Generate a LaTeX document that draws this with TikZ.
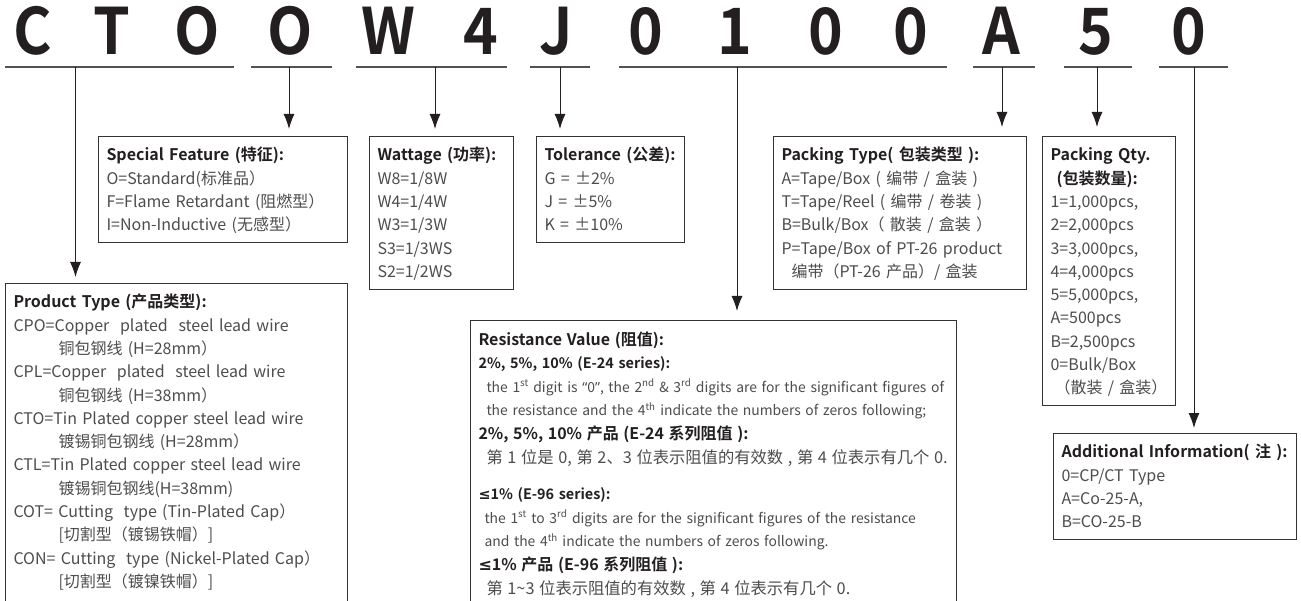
\documentclass[tikz,border=0pt]{standalone}
\usepackage{fontspec}
\setmainfont{Noto Sans CJK SC}[BoldFont={Noto Sans CJK SC Bold}]
\newfontfamily\bigfont{Noto Sans CJK SC Bold}
\newfontfamily\latinf{Noto Sans}
\newfontfamily\symf{DejaVu Sans}
\usetikzlibrary{arrows.meta}
\definecolor{bodytxt}{HTML}{4D4D4D}
\definecolor{titletxt}{HTML}{231F20}
\definecolor{linecol}{HTML}{333333}
\newcommand{\hdr}[1]{{\color{titletxt}\bfseries #1}}
\newcommand{\ind}[1]{\hspace*{#1pt}}
\newcommand{\lquo}{{\latinf “}}
\newcommand{\rquo}{{\latinf ”}}
\newcommand{\leqsym}{{\symf\bfseries ≤}}
\newcommand{\bstrut}{\rule[-4pt]{0pt}{4pt}}
\newcommand{\sub}[1]{{\color{titletxt}\bfseries\fontsize{14.4}{23.6}\selectfont #1}}
\newcommand{\subcn}[1]{{\color{titletxt}\bfseries\fontsize{16}{23.6}\selectfont #1}}
\newcommand{\cnline}[1]{{\fontsize{16.3}{23.6}\selectfont #1}}
\begin{document}
\begin{tikzpicture}[x=1pt,y=-1pt,
  biglet/.style={anchor=base, font=\bigfont\fontsize{64}{64}\selectfont, text=titletxt, inner sep=0pt, xscale=0.92},
  uline/.style={draw=linecol!85, line width=1.6pt},
  conn/.style={draw=titletxt, line width=1pt, -{Latex[length=15pt,width=11pt]}},
  infobox/.style={draw=linecol, line width=1pt, anchor=north west, align=left,
    inner xsep=8pt, inner ysep=8pt, text=bodytxt, font=\fontsize{16}{23.3}\selectfont}
]
\fill[white] (0,0) rectangle (1301,601);
\useasboundingbox (0,0) rectangle (1301,601);
\clip (0,0) rectangle (1301,601);

% big code letters
\node[biglet] (L1) at (33,55) {C};
\node[biglet] (L2) at (112,55) {T};
\node[biglet] (L3) at (197,55) {O};
\node[biglet] (L4) at (290,55) {O};
\node[biglet] (L5) at (388,55) {W};
\node[biglet] (L6) at (481,55) {4};
\node[biglet] (L7) at (556,55) {J};
\node[biglet] (L8) at (646,55) {0};
\node[biglet] (L9) at (735,55) {1};
\node[biglet] (L10) at (826,55) {0};
\node[biglet] (L11) at (911,55) {0};
\node[biglet] (L12) at (1001,55) {A};
\node[biglet] (L13) at (1096,55) {5};
\node[biglet] (L14) at (1189,55) {0};

% underline coordinates
\coordinate (u1a) at (5,67);    \coordinate (u1b) at (234,67);  \coordinate (s1) at (75.5,67);
\coordinate (u2a) at (251,67);  \coordinate (u2b) at (332,67);  \coordinate (s2) at (289,67);
\coordinate (u3a) at (356,67);  \coordinate (u3b) at (507,67);  \coordinate (s3) at (435,67);
\coordinate (u4a) at (530,67);  \coordinate (u4b) at (590,67);  \coordinate (s4) at (560,67);
\coordinate (u5a) at (619,67);  \coordinate (u5b) at (947,67);  \coordinate (s5) at (737,67);
\coordinate (u6a) at (973,67);  \coordinate (u6b) at (1035,67); \coordinate (s6) at (1002,67);
\coordinate (u7a) at (1064,67); \coordinate (u7b) at (1132,67); \coordinate (s7) at (1097,67);
\coordinate (u8a) at (1159,67); \coordinate (u8b) at (1228,67); \coordinate (s8) at (1194,67);
\foreach \i in {1,...,8} {\draw[uline] (u\i a) -- (u\i b);}

% boxes
\node[infobox, text width=326pt] (pt) at (5,283) {\strut\hdr{Product Type (产品类型):}\\
CPO=Copper\ \ plated\ \ steel lead wire\\
\ind{45}铜包钢线 (H=28mm）\\
CPL=Copper\ \ plated\ \ steel lead wire\\
\ind{45}铜包钢线 (H=38mm）\\
CTO=Tin Plated copper steel lead wire\\
\ind{45}镀锡铜包钢线 (H=28mm）\\
CTL=Tin Plated copper steel lead wire\\
\ind{45}镀锡铜包钢线(H=38mm)\\
COT= Cutting\ \ type (Tin-Plated Cap）\\
\ind{45}[切割型（镀锡铁帽）]\\
CON= Cutting\ \ type (Nickel-Plated Cap）\\
\ind{45}[切割型（镀镍铁帽）]\\
\ind{45}\strut};

\node[infobox, text width=233pt] (sf) at (98,136) {\strut\hdr{Special Feature (特征):}\\
O=Standard(标准品）\\
F=Flame Retardant (阻燃型）\\
I=Non-Inductive (无感型）\bstrut};

\node[infobox, text width=128pt] (wt) at (369,136) {\strut\hdr{Wattage (功率):}\\
W8=1/8W\\ W4=1/4W\\ W3=1/3W\\ S3=1/3WS\\ S2=1/2WS\bstrut};

\node[infobox, text width=132pt] (tol) at (536,136) {\strut\hdr{Tolerance (公差):}\\
G = ±2\%\\ J = ±5\%\\ K = ±10\%\bstrut};

\node[infobox, text width=237pt] (pk) at (773,136) {\strut\hdr{Packing Type( 包装类型 ):}\\
A=Tape/Box ( 编带 / 盒装 )\\
T=Tape/Reel ( 编带 / 卷装 )\\
B=Bulk/Box（ 散装 / 盒装 ）\\
P=Tape/Box of PT-26 product\\
\ind{10}编带（PT-26 产品）/ 盒装\bstrut};

\node[infobox, text width=117pt] (pq) at (1042,136) {\strut\hdr{Packing Qty.}\\
\hdr{\ind{6}(包装数量):}\\
1=1,000pcs,\\ 2=2,000pcs\\ 3=3,000pcs,\\ 4=4,000pcs\\ 5=5,000pcs,\\
A=500pcs\\ B=2,500pcs\\ 0=Bulk/Box\\ \ind{4}（散装 / 盒装）\bstrut};

\node[infobox, text width=227pt] (ai) at (1053,433) {\strut\hdr{Additional Information( 注 ):}\\
0=CP/CT Type\\ A=Co-25-A,\\ B=CO-25-B\bstrut};

\node[infobox, text width=470pt, font=\fontsize{13.9}{23.6}\selectfont] (rv) at (470,320) {\strut{\fontsize{16}{23.6}\selectfont\hdr{Resistance Value (阻值):}}\\
\sub{2\%, 5\%, 10\% (E-24 series):}\\
\mbox{\ind{8}the 1\textsuperscript{st} digit is \lquo 0\rquo, the 2\textsuperscript{nd} \& 3\textsuperscript{rd} digits are for the significant figures of}\\
\mbox{\ind{8}the resistance and the 4\textsuperscript{th} indicate the numbers of zeros following;}\\
\subcn{2\%, 5\%, 10\% 产品 (E-24 系列阻值 ):}\\
\mbox{\ind{8}\cnline{第 1 位是 0, 第 2、3 位表示阻值的有效数 , 第 4 位表示有几个 0.}}\\[13pt]
\sub{\leqsym 1\% (E-96 series):}\\
\mbox{\ind{6}the 1\textsuperscript{st} to 3\textsuperscript{rd} digits are for the significant figures of the resistance}\\
\mbox{\ind{6}and the 4\textsuperscript{th} indicate the numbers of zeros following.}\\
\subcn{\leqsym 1\% 产品 (E-96 系列阻值 ):}\\
\mbox{\ind{8}\cnline{第 1\textasciitilde 3 位表示阻值的有效数 , 第 4 位表示有几个 0.}}\\
\strut};

% connectors
\draw[conn, shorten >=6pt] (s1) -- (s1 |- pt.north);
\draw[conn, shorten >=7pt] (s2) -- (s2 |- sf.north);
\draw[conn, shorten >=7pt] (s3) -- (s3 |- wt.north);
\draw[conn, shorten >=7pt] (s4) -- (s4 |- tol.north);
\draw[conn, shorten >=9pt] (s5) -- (s5 |- rv.north);
\draw[conn, shorten >=9pt] (s6) -- (s6 |- pk.north);
\draw[conn, shorten >=9pt] (s7) -- (s7 |- pq.north);
\draw[conn, shorten >=5pt] (s8) -- (s8 |- ai.north);
\end{tikzpicture}
\end{document}
